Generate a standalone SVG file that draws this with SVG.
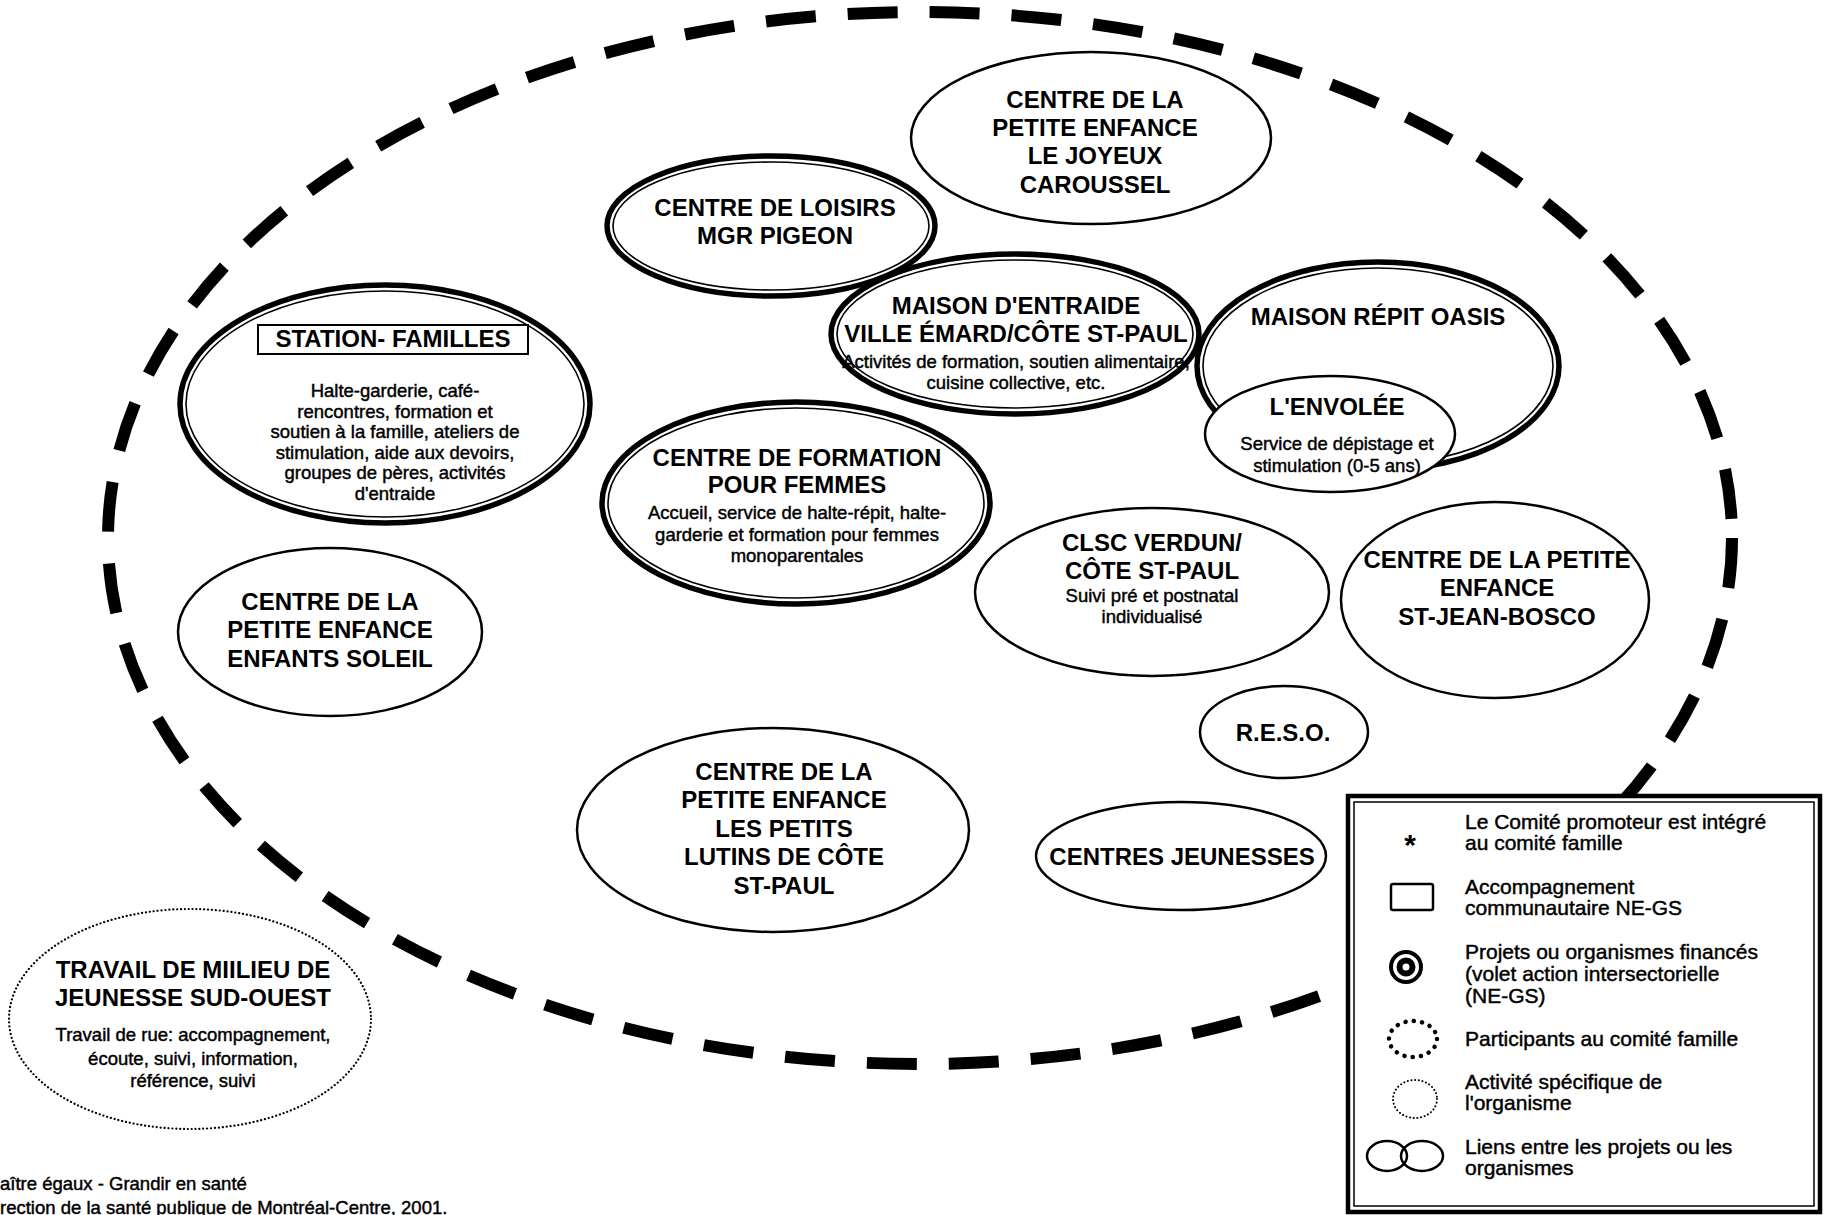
<svg xmlns="http://www.w3.org/2000/svg" width="1824" height="1215" viewBox="0 0 1824 1215">
<style>
.t{font-family:"Liberation Sans",Arial,sans-serif;font-weight:bold;font-size:24px;text-anchor:middle;fill:#000}
.d{font-family:"Liberation Sans",Arial,sans-serif;font-size:18.5px;text-anchor:middle;fill:#000;stroke:#000;stroke-width:0.45}
.lg{font-family:"Liberation Sans",Arial,sans-serif;font-size:21px;fill:#000;stroke:#000;stroke-width:0.45}
.src{font-family:"Liberation Sans",Arial,sans-serif;font-size:18.5px;fill:#000;stroke:#000;stroke-width:0.45}
.ro{fill:none;stroke:#000;stroke-width:5.5}
.ri{fill:none;stroke:#000;stroke-width:1.6}
.s{fill:none;stroke:#000;stroke-width:2.5}
.dash{fill:none;stroke:#000;stroke-width:12;stroke-dasharray:50 32}
.dots{fill:none;stroke:#000;stroke-width:2.2;stroke-linecap:round;stroke-dasharray:0.1 3.8}
</style>
<rect width="1824" height="1215" fill="#fff"/>
<g id="perimeter">
<ellipse class="dash" cx="920" cy="538" rx="812" ry="526"/>
</g>
<g id="connectors"></g>
<g id="joyeux-caroussel">
<ellipse class="s" cx="1091" cy="138" rx="180" ry="86"/>
<text class="t" x="1095" y="108">CENTRE DE LA</text>
<text class="t" x="1095" y="136">PETITE ENFANCE</text>
<text class="t" x="1095" y="164">LE JOYEUX</text>
<text class="t" x="1095" y="193">CAROUSSEL</text>
</g>
<g id="loisirs-mgr-pigeon">
<ellipse class="ro" cx="771" cy="226" rx="164" ry="70"/>
<ellipse class="ri" cx="771" cy="226" rx="158" ry="64"/>
<text class="t" x="775" y="216">CENTRE DE LOISIRS</text>
<text class="t" x="775" y="244">MGR PIGEON</text>
</g>
<g id="maison-entraide">
<ellipse class="ro" cx="1015" cy="334" rx="184" ry="80"/>
<ellipse class="ri" cx="1015" cy="334" rx="178" ry="74"/>
<text class="t" x="1016" y="314">MAISON D'ENTRAIDE</text>
<text class="t" x="1016" y="342">VILLE ÉMARD/CÔTE ST-PAUL</text>
<text class="d" x="1016" y="368">Activités de formation, soutien alimentaire,</text>
<text class="d" x="1016" y="389">cuisine collective, etc.</text>
</g>
<g id="maison-repit-oasis">
<ellipse class="ro" cx="1378" cy="366" rx="181" ry="104"/>
<ellipse class="ri" cx="1378" cy="366" rx="175" ry="98"/>
<text class="t" x="1378" y="325">MAISON RÉPIT OASIS</text>
</g>
<g id="envolee">
<ellipse cx="1330" cy="434" rx="125" ry="58" fill="#fff" stroke="#000" stroke-width="2.5"/>
<text class="t" x="1337" y="415">L'ENVOLÉE</text>
<text class="d" x="1337" y="450">Service de dépistage et</text>
<text class="d" x="1337" y="472">stimulation (0-5 ans)</text>
</g>
<g id="station-familles">
<ellipse class="ro" cx="385" cy="404" rx="205" ry="119"/>
<ellipse class="ri" cx="385" cy="404" rx="199" ry="113"/>
<rect x="258" y="325" width="270" height="29" fill="none" stroke="#000" stroke-width="2"/>
<text class="t" x="393" y="347">STATION- FAMILLES</text>
<text class="d" x="395" y="397">Halte-garderie, café-</text>
<text class="d" x="395" y="418">rencontres, formation et</text>
<text class="d" x="395" y="438">soutien à la famille, ateliers de</text>
<text class="d" x="395" y="459">stimulation, aide aux devoirs,</text>
<text class="d" x="395" y="479">groupes de pères, activités</text>
<text class="d" x="395" y="500">d'entraide</text>
</g>
<g id="centre-formation-femmes">
<ellipse class="ro" cx="796" cy="503" rx="194" ry="101"/>
<ellipse class="ri" cx="796" cy="503" rx="188" ry="95"/>
<text class="t" x="797" y="466">CENTRE DE FORMATION</text>
<text class="t" x="797" y="493">POUR FEMMES</text>
<text class="d" x="797" y="519">Accueil, service de halte-répit, halte-</text>
<text class="d" x="797" y="541">garderie et formation pour femmes</text>
<text class="d" x="797" y="562">monoparentales</text>
</g>
<g id="clsc-verdun">
<ellipse class="s" cx="1152" cy="592" rx="177" ry="84"/>
<text class="t" x="1152" y="551">CLSC VERDUN/</text>
<text class="t" x="1152" y="579">CÔTE ST-PAUL</text>
<text class="d" x="1152" y="602">Suivi pré et postnatal</text>
<text class="d" x="1152" y="623">individualisé</text>
</g>
<g id="st-jean-bosco">
<ellipse class="s" cx="1495" cy="600" rx="154" ry="98"/>
<text class="t" x="1497" y="568">CENTRE DE LA PETITE</text>
<text class="t" x="1497" y="596">ENFANCE</text>
<text class="t" x="1497" y="625">ST-JEAN-BOSCO</text>
</g>
<g id="enfants-soleil">
<ellipse class="s" cx="330" cy="632" rx="152" ry="84"/>
<text class="t" x="330" y="610">CENTRE DE LA</text>
<text class="t" x="330" y="638">PETITE ENFANCE</text>
<text class="t" x="330" y="667">ENFANTS SOLEIL</text>
</g>
<g id="reso">
<ellipse class="s" cx="1284" cy="732" rx="84" ry="46"/>
<text class="t" x="1283" y="741">R.E.S.O.</text>
</g>
<g id="petits-lutins">
<ellipse class="s" cx="773" cy="830" rx="196" ry="102"/>
<text class="t" x="784" y="780">CENTRE DE LA</text>
<text class="t" x="784" y="808">PETITE ENFANCE</text>
<text class="t" x="784" y="837">LES PETITS</text>
<text class="t" x="784" y="865">LUTINS DE CÔTE</text>
<text class="t" x="784" y="894">ST-PAUL</text>
</g>
<g id="centres-jeunesses">
<ellipse class="s" cx="1181" cy="856" rx="145" ry="54"/>
<text class="t" x="1182" y="865">CENTRES JEUNESSES</text>
</g>
<g id="travail-de-milieu">
<ellipse class="dots" cx="190" cy="1019" rx="181" ry="110"/>
<text class="t" x="193" y="978">TRAVAIL DE MIILIEU DE</text>
<text class="t" x="193" y="1006">JEUNESSE SUD-OUEST</text>
<text class="d" x="193" y="1041">Travail de rue: accompagnement,</text>
<text class="d" x="193" y="1065">écoute, suivi, information,</text>
<text class="d" x="193" y="1087">référence, suivi</text>
</g>
<g id="source">
<text class="src" x="0" y="1190">aître égaux - Grandir en santé</text>
<text class="src" x="0" y="1214">rection de la santé publique de Montréal-Centre, 2001.</text>
</g>
<g id="legend">
<rect x="1348" y="796" width="472" height="416" fill="#fff" stroke="#000" stroke-width="4.5"/>
<rect x="1354" y="802" width="460" height="404" fill="none" stroke="#000" stroke-width="1.5"/>
<text x="1410" y="855" style="font-family:'Liberation Sans',Arial,sans-serif;font-weight:bold;font-size:30px;text-anchor:middle">*</text>
<text class="lg" x="1465" y="829">Le Comité promoteur est intégré</text>
<text class="lg" x="1465" y="850">au comité famille</text>
<rect x="1391" y="884" width="42" height="26" rx="2" fill="none" stroke="#000" stroke-width="2.5"/>
<text class="lg" x="1465" y="894">Accompagnement</text>
<text class="lg" x="1465" y="915">communautaire NE-GS</text>
<circle cx="1406" cy="967" r="15" fill="none" stroke="#000" stroke-width="4"/>
<circle cx="1406" cy="967" r="6.5" fill="none" stroke="#000" stroke-width="6"/>
<text class="lg" x="1465" y="959">Projets ou organismes financés</text>
<text class="lg" x="1465" y="981">(volet action intersectorielle</text>
<text class="lg" x="1465" y="1003">(NE-GS)</text>
<ellipse cx="1413" cy="1039" rx="24" ry="18" fill="none" stroke="#000" stroke-width="4.5" stroke-linecap="round" stroke-dasharray="0.1 8.2"/>
<text class="lg" x="1465" y="1046">Participants au comité famille</text>
<ellipse cx="1415" cy="1099" rx="22" ry="19" fill="none" stroke="#000" stroke-width="2" stroke-linecap="round" stroke-dasharray="0.1 3.6"/>
<text class="lg" x="1465" y="1089">Activité spécifique de</text>
<text class="lg" x="1465" y="1110">l'organisme</text>
<ellipse cx="1387" cy="1156" rx="20" ry="15" fill="none" stroke="#000" stroke-width="2.5"/>
<ellipse cx="1422" cy="1156" rx="21" ry="15" fill="none" stroke="#000" stroke-width="2.5"/>
<text class="lg" x="1465" y="1154">Liens entre les projets ou les</text>
<text class="lg" x="1465" y="1175">organismes</text>
</g>
</svg>
